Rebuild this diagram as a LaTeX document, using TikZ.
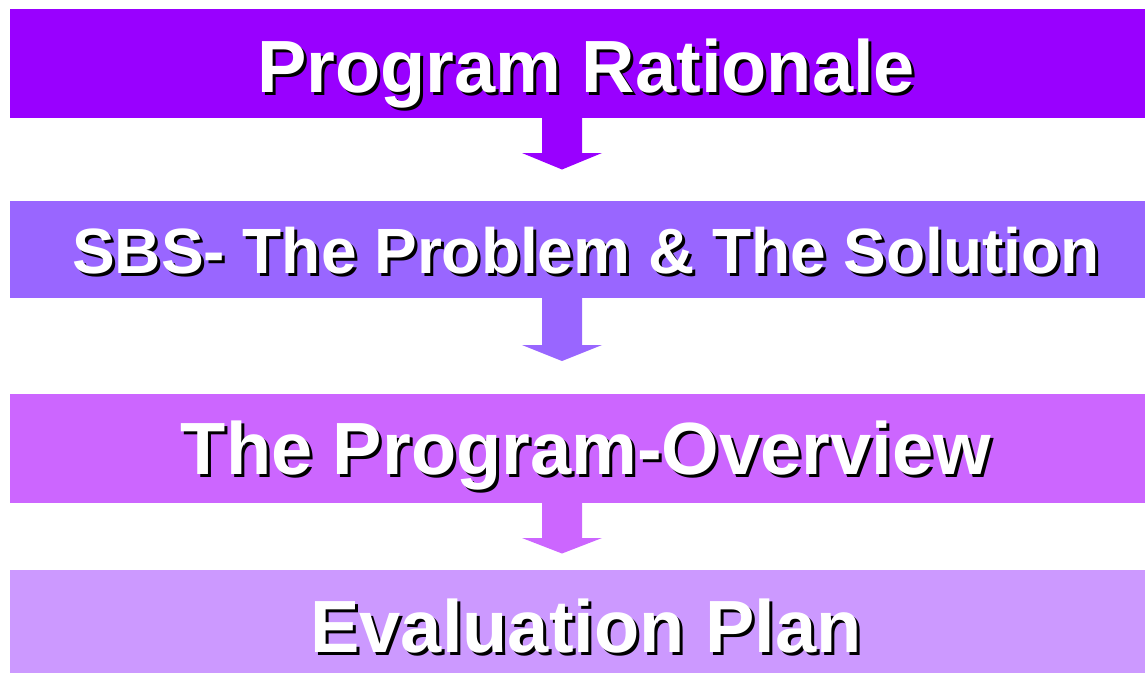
\documentclass[tikz,border=0pt]{standalone}
\usepackage{fontspec}
\setmainfont{Liberation Sans}
\definecolor{cA}{HTML}{9900FF}
\definecolor{cB}{HTML}{9966FF}
\definecolor{cC}{HTML}{CC66FF}
\definecolor{cD}{HTML}{CC99FF}
\tikzset{
  band/.style={inner sep=0pt, minimum width=1135pt, draw=none},
  shadowtxt/.style={anchor=base, inner sep=0pt, text=black, font=\bfseries},
  maintxt/.style={anchor=base, inner sep=0pt, text=white, font=\bfseries},
}
\newcommand{\blockarrow}[4]{% color, top y, head y, tip y
  \fill[#1] (542,#2) -- (582,#2) -- (582,#3) -- (602,#3) -- (562,#4) -- (522,#3) -- (542,#3) -- cycle;}
\begin{document}
\begin{tikzpicture}[x=1pt,y=-1pt]
\useasboundingbox (0,0) rectangle (1145,673);
\node[band, fill=cA, minimum height=108.5pt] (b1) at (577.5,63.25) {};
\node[band, fill=cB, minimum height=97pt] (b2) at (577.5,249.5) {};
\node[band, fill=cC, minimum height=109pt] (b3) at (577.5,448.5) {};
\node[band, fill=cD, minimum height=103pt] (b4) at (577.5,621.5) {};
\blockarrow{cA}{117}{153}{169.5}
\blockarrow{cB}{298}{345}{361}
\blockarrow{cC}{503}{538}{553.5}
% texts
\node[shadowtxt, font=\bfseries\fontsize{74}{86}\selectfont] (s1) at (589,95) {Program Rationale};
\node[maintxt, font=\bfseries\fontsize{74}{86}\selectfont] (t1) at (586,92) {Program Rationale};
\node[shadowtxt, font=\bfseries\fontsize{64}{76}\selectfont] (s2) at (589,276) {SBS- The Problem \& The Solution};
\node[maintxt, font=\bfseries\fontsize{64}{76}\selectfont] (t2) at (586,273) {SBS- The Problem \& The Solution};
\node[shadowtxt, font=\bfseries\fontsize{74}{86}\selectfont] (s3) at (589,477) {The Program-Overview};
\node[maintxt, font=\bfseries\fontsize{74}{86}\selectfont] (t3) at (586,474) {The Program-Overview};
\node[shadowtxt, font=\bfseries\fontsize{74}{86}\selectfont] (s4) at (589,655) {Evaluation Plan};
\node[maintxt, font=\bfseries\fontsize{74}{86}\selectfont] (t4) at (586,652) {Evaluation Plan};
\end{tikzpicture}
\end{document}
